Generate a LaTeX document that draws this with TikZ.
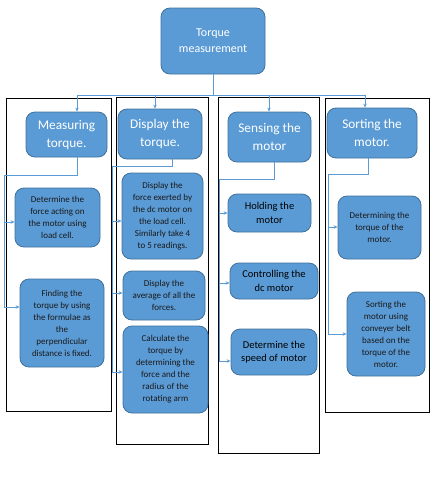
\documentclass[tikz,border=0pt]{standalone}
\usepackage{fontspec}
\setmainfont{Carlito}
\usepackage{tikz}
\usetikzlibrary{arrows.meta,calc}

\definecolor{boxblue}{HTML}{5B9BD5}
\definecolor{boxedge}{HTML}{41719C}

\begin{document}
\begin{tikzpicture}[x=1pt, y=-1pt,
	block/.style={draw=boxedge, fill=boxblue, line width=0.8pt, rounded corners=9pt, align=center, inner sep=1pt},
	head/.style={block, text=white, font=\fontsize{13.3}{18}\selectfont},
	item/.style={block, text=black!90, font=\fontsize{9}{12}\selectfont},
	itembig/.style={block, text=black, font=\fontsize{10.5}{13.5}\selectfont},
	link/.style={draw=boxblue, line width=0.8pt},
	arr/.style={link, -{Stealth[length=4pt,width=3.5pt]}},
	frame/.style={draw=black, line width=1pt}]

	 \useasboundingbox (0,0) rectangle (436,498);

	 \draw[frame] (6,98) rectangle (111,411);
	 \draw[frame] (116,97) rectangle (208,444);
	 \draw[frame] (218,97) rectangle (319,453);
	 \draw[frame] (325,98) rectangle (429,412);

	 \node[block, text=white, font=\fontsize{12}{16}\selectfont, minimum width=104pt, minimum height=66pt] (top) at (213,41) {Torque\\measurement};

	 \node[head, minimum width=81pt, minimum height=45pt] (meas) at (66.5,134.5) {Measuring\\torque.};
	 \node[head, minimum width=84pt, minimum height=50pt] (disp) at (160,134) {Display the\\torque.};
	 \node[head, minimum width=83pt, minimum height=50pt] (sens) at (269.5,137) {Sensing the\\motor};
	 \node[head, minimum width=90pt, minimum height=50pt] (sort) at (372,133) {Sorting the\\motor.};

	 \node[item, minimum width=85pt, minimum height=59pt] (det) at (57.5,217.5) {Determine the\\force acting on\\the motor using\\load cell.};
	 \node[item, minimum width=84pt, minimum height=88pt] (find) at (62,323) {Finding the\\torque by using\\the formulae as\\the\\perpendicular\\distance is fixed.};

	 \node[item, minimum width=81pt, minimum height=86pt] (force) at (162.5,216) {Display the\\force exerted by\\the dc motor on\\the load cell.\\Similarly take 4\\to 5 readings.};
	 \node[item, minimum width=82pt, minimum height=49pt] (avg) at (164,295.5) {Display the\\average of all the\\forces.};
	 \node[item, minimum width=85pt, minimum height=87pt] (calc) at (165.5,369.5) {Calculate the\\torque by\\determining the\\force and the\\radius of the\\rotating arm};

	 \node[itembig, minimum width=83pt, minimum height=38pt] (hold) at (269.5,213) {Holding the\\motor};
	 \node[itembig, minimum width=88pt, minimum height=36pt] (ctrl) at (274,281) {Controlling the\\dc motor};
	 \node[itembig, minimum width=86pt, minimum height=46pt] (speed) at (274,352) {Determine the\\speed of motor};

	 \node[item, minimum width=83pt, minimum height=63pt] (dett) at (379.5,227.5) {Determining the\\torque of the\\motor.};
	 \node[item, minimum width=78pt, minimum height=84pt] (belt) at (386,334) {Sorting the\\motor using\\conveyer belt\\based on the\\torque of the\\motor.};

	 \coordinate (bus) at (213,95);
	 \coordinate (b1) at (77,95);
	 \coordinate (b2) at (155,95);
	 \coordinate (b3) at (269,95);
	 \coordinate (b4) at (365,95);
	 \draw[link] (top.south -| bus) -- (bus);
	 \draw[link] (b1) -- (b4);
	 \draw[arr] (b1) -- (b1 |- meas.north);
	 \draw[arr] (b2) -- (b2 |- disp.north);
	 \draw[arr] (b3) -- (b3 |- sens.north);
	 \draw[arr] (b4) -- (b4 |- sort.north);

	 \coordinate (m0) at (77,175);
	 \coordinate (m1) at (4,175);
	 \coordinate (m2) at (4,307);
	 \coordinate (m3) at (4,222);
	 \draw[link] (meas.south -| m0) -- (m0) -- (m1) -- (m2);
	 \draw[arr] (m3) -- (m3 -| det.west);
	 \draw[arr] (m2) -- (m2 -| find.west);

	 \coordinate (d0) at (172,166);
	 \coordinate (d1) at (112,166);
	 \coordinate (d2) at (112,372);
	 \coordinate (d3) at (112,221);
	 \coordinate (d4) at (112,293);
	 \draw[link] (disp.south -| d0) -- (d0) -- (d1) -- (d2);
	 \draw[arr] (d3) -- (d3 -| force.west);
	 \draw[arr] (d4) -- (d4 -| avg.west);
	 \draw[arr] (d2) -- (d2 -| calc.west);

	 \coordinate (s0) at (274,179);
	 \coordinate (s1) at (219,179);
	 \coordinate (s2) at (219,361);
	 \coordinate (s3) at (219,213);
	 \coordinate (s4) at (219,283);
	 \draw[link] (sens.south -| s0) -- (s0) -- (s1) -- (s2);
	 \draw[arr] (s3) -- (s3 -| hold.west);
	 \draw[arr] (s4) -- (s4 -| ctrl.west);
	 \draw[arr] (s2) -- (s2 -| speed.west);

	 \coordinate (r0) at (368,174);
	 \coordinate (r1) at (328,174);
	 \coordinate (r2) at (328,334);
	 \coordinate (r3) at (328,227);
	 \draw[link] (sort.south -| r0) -- (r0) -- (r1) -- (r2);
	 \draw[arr] (r3) -- (r3 -| dett.west);
	 \draw[arr] (r2) -- (r2 -| belt.west);
\end{tikzpicture}
\end{document}
